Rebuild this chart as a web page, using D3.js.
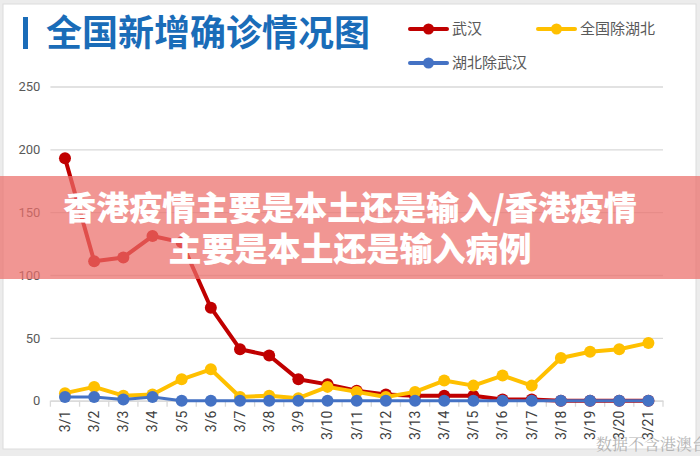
<!DOCTYPE html>
<html>
<head>
<meta charset="utf-8">
<script src="https://cdn.jsdelivr.net/npm/d3@7"></script>
<style>
  body { margin: 0; background: #fff; }
  svg { display: block; font-family: "Noto Sans CJK SC", "Noto Sans", sans-serif; }
</style>
</head>
<body>
<script>
var width = 700;
var height = 456;

// dates on the x axis
var days = ['3/1', '3/2', '3/3', '3/4', '3/5', '3/6', '3/7', '3/8', '3/9', '3/10',
            '3/11', '3/12', '3/13', '3/14', '3/15', '3/16', '3/17', '3/18', '3/19', '3/20', '3/21'];

// new confirmed cases per day
var wuhan    = [193, 111, 114, 131, 126, 74, 41, 36, 17, 13, 8, 5, 4, 4, 4, 1, 1, 0, 0, 0, 0];
var national = [6, 11, 4, 5, 17, 25, 3, 4, 2, 11, 7, 3, 7, 16, 12, 20, 12, 34, 39, 41, 46];
var hubeiRest = [3, 3, 1, 3, 0, 0, 0, 0, 0, 0, 0, 0, 0, 0, 0, 0, 0, 0, 0, 0, 0];

var yTicks = [0, 50, 100, 150, 200, 250];

var seriesNames = ['武汉', '全国除湖北', '湖北除武汉'];
var seriesColors = ['#c00000', '#ffc000', '#4472c4'];
var seriesValues = [wuhan, national, hubeiRest];

var svg = d3.select('body').append('svg')
  .attr('width', width)
  .attr('height', height);

// frame
svg.append('rect')
  .attr('x', 0).attr('y', 0)
  .attr('width', width).attr('height', height)
  .attr('fill', '#ececec');
svg.append('rect')
  .attr('x', 3).attr('y', 4)
  .attr('width', 693).attr('height', 445)
  .attr('fill', '#fff')
  .attr('stroke', '#dcdcdc')
  .attr('stroke-width', 1);

var x = d3.scaleBand()
  .domain(days)
  .range([50.4, 663])
  .padding(0);

var y = d3.scaleLinear()
  .domain([0, 250])
  .range([400.7, 86.5]);

var cx = function(d) { return x(d) + x.bandwidth() / 2; };

// grid lines + y labels
var yAxis = d3.axisLeft(y)
  .tickValues(yTicks)
  .tickSize(-(663 - 50.4))
  .tickPadding(10);

var gy = svg.append('g')
  .attr('transform', 'translate(50.4,0)')
  .call(yAxis);
gy.select('.domain').remove();
gy.selectAll('.tick line').attr('stroke', '#d9d9d9').attr('stroke-width', 1.3);
gy.selectAll('.tick text')
  .attr('fill', '#595959')
  .attr('font-size', 13)
  .attr('font-family', 'Roboto, "Noto Sans", sans-serif');

// x axis: labels at the band centres, tick marks between them
var xAxis = d3.axisBottom(x).tickSize(0).tickPadding(0);
var gx = svg.append('g')
  .attr('transform', 'translate(0,' + y(0) + ')')
  .call(xAxis);
gx.select('.domain').attr('stroke', '#d9d9d9').attr('stroke-width', 1.3);
gx.selectAll('.tick text')
  .attr('transform', 'rotate(-90)')
  .attr('text-anchor', 'end')
  .attr('x', -10)
  .attr('y', 0)
  .attr('dy', '0.35em')
  .attr('fill', '#404040')
  .attr('font-size', 14)
  .attr('font-family', 'Roboto, "Noto Sans", sans-serif');

var edges = days.map(function(d) { return x(d); }).concat([x.range()[1]]);
gx.selectAll('line.edge')
  .data(edges)
  .enter().append('line')
  .attr('class', 'edge')
  .attr('x1', function(d) { return d; })
  .attr('x2', function(d) { return d; })
  .attr('y1', 0)
  .attr('y2', 6)
  .attr('stroke', '#d9d9d9')
  .attr('stroke-width', 1.3);

// lines
var line = d3.line()
  .x(function(d, i) { return cx(days[i]); })
  .y(function(d) { return y(d); });

var widths = [4, 4, 3];
seriesValues.forEach(function(vals, k) {
  var g = svg.append('g');
  g.append('path')
    .datum(vals)
    .attr('d', line)
    .attr('fill', 'none')
    .attr('stroke', seriesColors[k])
    .attr('stroke-width', widths[k])
    .attr('stroke-linejoin', 'round');
  g.selectAll('circle')
    .data(vals)
    .enter().append('circle')
    .attr('cx', function(d, i) { return cx(days[i]); })
    .attr('cy', function(d) { return y(d); })
    .attr('r', 6)
    .attr('fill', seriesColors[k]);
});

// title
svg.append('rect')
  .attr('x', 23).attr('y', 17)
  .attr('width', 5).attr('height', 32)
  .attr('fill', '#1a6cb8');
svg.append('text')
  .attr('x', 46).attr('y', 46)
  .attr('font-size', 36)
  .attr('font-weight', 700)
  .attr('fill', '#1a6cb8')
  .text('全国新增确诊情况图');

// legend
var legendPos = [[410, 29], [538, 29], [410, 63]];
seriesNames.forEach(function(name, k) {
  var p = legendPos[k];
  var lg = svg.append('g').attr('transform', 'translate(' + p[0] + ',' + p[1] + ')');
  lg.append('line')
    .attr('x1', 0).attr('x2', 37)
    .attr('stroke', seriesColors[k])
    .attr('stroke-width', 4)
    .attr('stroke-linecap', 'round');
  lg.append('circle').attr('cx', 18.5).attr('r', 5.5).attr('fill', seriesColors[k]);
  lg.append('text')
    .attr('x', 42).attr('dy', '0.35em')
    .attr('font-size', 15)
    .attr('fill', '#595959')
    .text(name);
});

// watermark
svg.append('text')
  .attr('x', 596).attr('y', 450)
  .attr('font-size', 16)
  .attr('fill', '#b4b4b4')
  .attr('font-family', '"Noto Serif CJK SC", "Noto Sans CJK SC", serif')
  .text('数据不含港澳台');

// overlay banner
svg.append('rect')
  .attr('x', 0).attr('y', 176)
  .attr('width', width).attr('height', 103)
  .attr('fill', 'rgb(236, 110, 106)')
  .attr('fill-opacity', 0.72);

var bannerLines = ['香港疫情主要是本土还是输入/香港疫情', '主要是本土还是输入病例'];
svg.selectAll('text.banner')
  .data(bannerLines)
  .enter().append('text')
  .attr('class', 'banner')
  .attr('x', width / 2)
  .attr('y', function(d, i) { return 220 + i * 41; })
  .attr('text-anchor', 'middle')
  .attr('font-size', 33)
  .attr('font-weight', 900)
  .attr('fill', '#fff')
  .text(function(d) { return d; });
</script>
</body>
</html>
